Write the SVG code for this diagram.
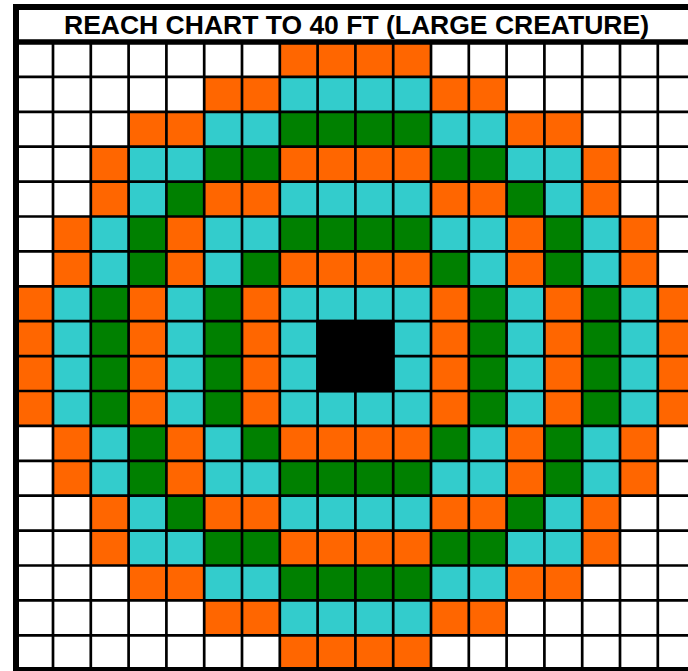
<svg xmlns="http://www.w3.org/2000/svg" xmlns:xlink="http://www.w3.org/1999/xlink" width="688" height="671" viewBox="0 0 688 671">
<style>
.o{fill:#FF6600}
.c{fill:#33CCCC}
.g{fill:#008000}
.k{fill:#000000}
.grid{stroke:#000;stroke-width:2.7;fill:none}
.border{stroke:#000;fill:none}
.title{font-family:"Liberation Sans",Arial,sans-serif;font-weight:bold;font-size:26.5px;fill:#000}
</style>
<defs>
<g id="row0">
<rect class="o" x="279.8" width="151.2" height="34.9"/>
</g>
<g id="row1">
<rect class="o" x="204.2" width="75.6" height="34.9"/>
<rect class="c" x="279.8" width="151.2" height="34.9"/>
<rect class="o" x="431" width="75.6" height="34.9"/>
</g>
<g id="row2">
<rect class="o" x="128.6" width="75.6" height="34.9"/>
<rect class="c" x="204.2" width="75.6" height="34.9"/>
<rect class="g" x="279.8" width="151.2" height="34.9"/>
<rect class="c" x="431" width="75.6" height="34.9"/>
<rect class="o" x="506.6" width="75.6" height="34.9"/>
</g>
<g id="row3">
<rect class="o" x="90.8" width="37.8" height="34.9"/>
<rect class="c" x="128.6" width="75.6" height="34.9"/>
<rect class="g" x="204.2" width="75.6" height="34.9"/>
<rect class="o" x="279.8" width="151.2" height="34.9"/>
<rect class="g" x="431" width="75.6" height="34.9"/>
<rect class="c" x="506.6" width="75.6" height="34.9"/>
<rect class="o" x="582.2" width="37.8" height="34.9"/>
</g>
<g id="row4">
<rect class="o" x="90.8" width="37.8" height="34.9"/>
<rect class="c" x="128.6" width="37.8" height="34.9"/>
<rect class="g" x="166.4" width="37.8" height="34.9"/>
<rect class="o" x="204.2" width="75.6" height="34.9"/>
<rect class="c" x="279.8" width="151.2" height="34.9"/>
<rect class="o" x="431" width="75.6" height="34.9"/>
<rect class="g" x="506.6" width="37.8" height="34.9"/>
<rect class="c" x="544.4" width="37.8" height="34.9"/>
<rect class="o" x="582.2" width="37.8" height="34.9"/>
</g>
<g id="row5">
<rect class="o" x="53" width="37.8" height="34.9"/>
<rect class="c" x="90.8" width="37.8" height="34.9"/>
<rect class="g" x="128.6" width="37.8" height="34.9"/>
<rect class="o" x="166.4" width="37.8" height="34.9"/>
<rect class="c" x="204.2" width="75.6" height="34.9"/>
<rect class="g" x="279.8" width="151.2" height="34.9"/>
<rect class="c" x="431" width="75.6" height="34.9"/>
<rect class="o" x="506.6" width="37.8" height="34.9"/>
<rect class="g" x="544.4" width="37.8" height="34.9"/>
<rect class="c" x="582.2" width="37.8" height="34.9"/>
<rect class="o" x="620" width="37.8" height="34.9"/>
</g>
<g id="row6">
<rect class="o" x="53" width="37.8" height="34.9"/>
<rect class="c" x="90.8" width="37.8" height="34.9"/>
<rect class="g" x="128.6" width="37.8" height="34.9"/>
<rect class="o" x="166.4" width="37.8" height="34.9"/>
<rect class="c" x="204.2" width="37.8" height="34.9"/>
<rect class="g" x="242" width="37.8" height="34.9"/>
<rect class="o" x="279.8" width="151.2" height="34.9"/>
<rect class="g" x="431" width="37.8" height="34.9"/>
<rect class="c" x="468.8" width="37.8" height="34.9"/>
<rect class="o" x="506.6" width="37.8" height="34.9"/>
<rect class="g" x="544.4" width="37.8" height="34.9"/>
<rect class="c" x="582.2" width="37.8" height="34.9"/>
<rect class="o" x="620" width="37.8" height="34.9"/>
</g>
<g id="row7">
<rect class="o" x="15.2" width="37.8" height="34.9"/>
<rect class="c" x="53" width="37.8" height="34.9"/>
<rect class="g" x="90.8" width="37.8" height="34.9"/>
<rect class="o" x="128.6" width="37.8" height="34.9"/>
<rect class="c" x="166.4" width="37.8" height="34.9"/>
<rect class="g" x="204.2" width="37.8" height="34.9"/>
<rect class="o" x="242" width="37.8" height="34.9"/>
<rect class="c" x="279.8" width="151.2" height="34.9"/>
<rect class="o" x="431" width="37.8" height="34.9"/>
<rect class="g" x="468.8" width="37.8" height="34.9"/>
<rect class="c" x="506.6" width="37.8" height="34.9"/>
<rect class="o" x="544.4" width="37.8" height="34.9"/>
<rect class="g" x="582.2" width="37.8" height="34.9"/>
<rect class="c" x="620" width="37.8" height="34.9"/>
<rect class="o" x="657.8" width="37.8" height="34.9"/>
</g>
</defs>
<rect x="0" y="0" width="688" height="671" fill="#FFFFFF"/>
<g id="title">
<text class="title" x="356.5" y="34" text-anchor="middle">REACH CHART TO 40 FT (LARGE CREATURE)</text>
</g>
<g id="cells">
<use xlink:href="#row0" y="42"/>
<use xlink:href="#row1" y="76.9"/>
<use xlink:href="#row2" y="111.8"/>
<use xlink:href="#row3" y="146.7"/>
<use xlink:href="#row4" y="181.6"/>
<use xlink:href="#row5" y="216.5"/>
<use xlink:href="#row6" y="251.4"/>
<use xlink:href="#row7" y="286.3"/>
<g id="center-band">
<rect class="o" x="15.2" y="321.2" width="37.8" height="69.8"/>
<rect class="c" x="53" y="321.2" width="37.8" height="69.8"/>
<rect class="g" x="90.8" y="321.2" width="37.8" height="69.8"/>
<rect class="o" x="128.6" y="321.2" width="37.8" height="69.8"/>
<rect class="c" x="166.4" y="321.2" width="37.8" height="69.8"/>
<rect class="g" x="204.2" y="321.2" width="37.8" height="69.8"/>
<rect class="o" x="242" y="321.2" width="37.8" height="69.8"/>
<rect class="c" x="279.8" y="321.2" width="37.8" height="69.8"/>
<rect class="c" x="393.2" y="321.2" width="37.8" height="69.8"/>
<rect class="o" x="431" y="321.2" width="37.8" height="69.8"/>
<rect class="g" x="468.8" y="321.2" width="37.8" height="69.8"/>
<rect class="c" x="506.6" y="321.2" width="37.8" height="69.8"/>
<rect class="o" x="544.4" y="321.2" width="37.8" height="69.8"/>
<rect class="g" x="582.2" y="321.2" width="37.8" height="69.8"/>
<rect class="c" x="620" y="321.2" width="37.8" height="69.8"/>
<rect class="o" x="657.8" y="321.2" width="37.8" height="69.8"/>
</g>
<use xlink:href="#row7" y="391"/>
<use xlink:href="#row6" y="425.9"/>
<use xlink:href="#row5" y="460.8"/>
<use xlink:href="#row4" y="495.7"/>
<use xlink:href="#row3" y="530.6"/>
<use xlink:href="#row2" y="565.5"/>
<use xlink:href="#row1" y="600.4"/>
<use xlink:href="#row0" y="635.3"/>
</g>
<g id="grid">
<path class="grid" d="M53 42V670M90.8 42V670M128.6 42V670M166.4 42V670M204.2 42V670M242 42V670M279.8 42V670M317.6 42V670M355.4 42V670M393.2 42V670M431 42V670M468.8 42V670M506.6 42V670M544.4 42V670M582.2 42V670M620 42V670M657.8 42V670"/>
<path class="grid" d="M15 76.9H688M15 111.8H688M15 146.7H688M15 181.6H688M15 216.5H688M15 251.4H688M15 286.3H688M15 321.2H688M15 356.1H688M15 391H688M15 425.9H688M15 460.8H688M15 495.7H688M15 530.6H688M15 565.5H688M15 600.4H688M15 635.3H688"/>
<rect class="k" x="316.2" y="319.8" width="78.4" height="72.6"/>
<path class="border" stroke-width="6" d="M16 4V671M13 7H688"/>
<path class="border" stroke-width="5.5" d="M13 42H688"/>
<path class="border" stroke-width="5" d="M13 669.5H688"/>
</g>
</svg>
